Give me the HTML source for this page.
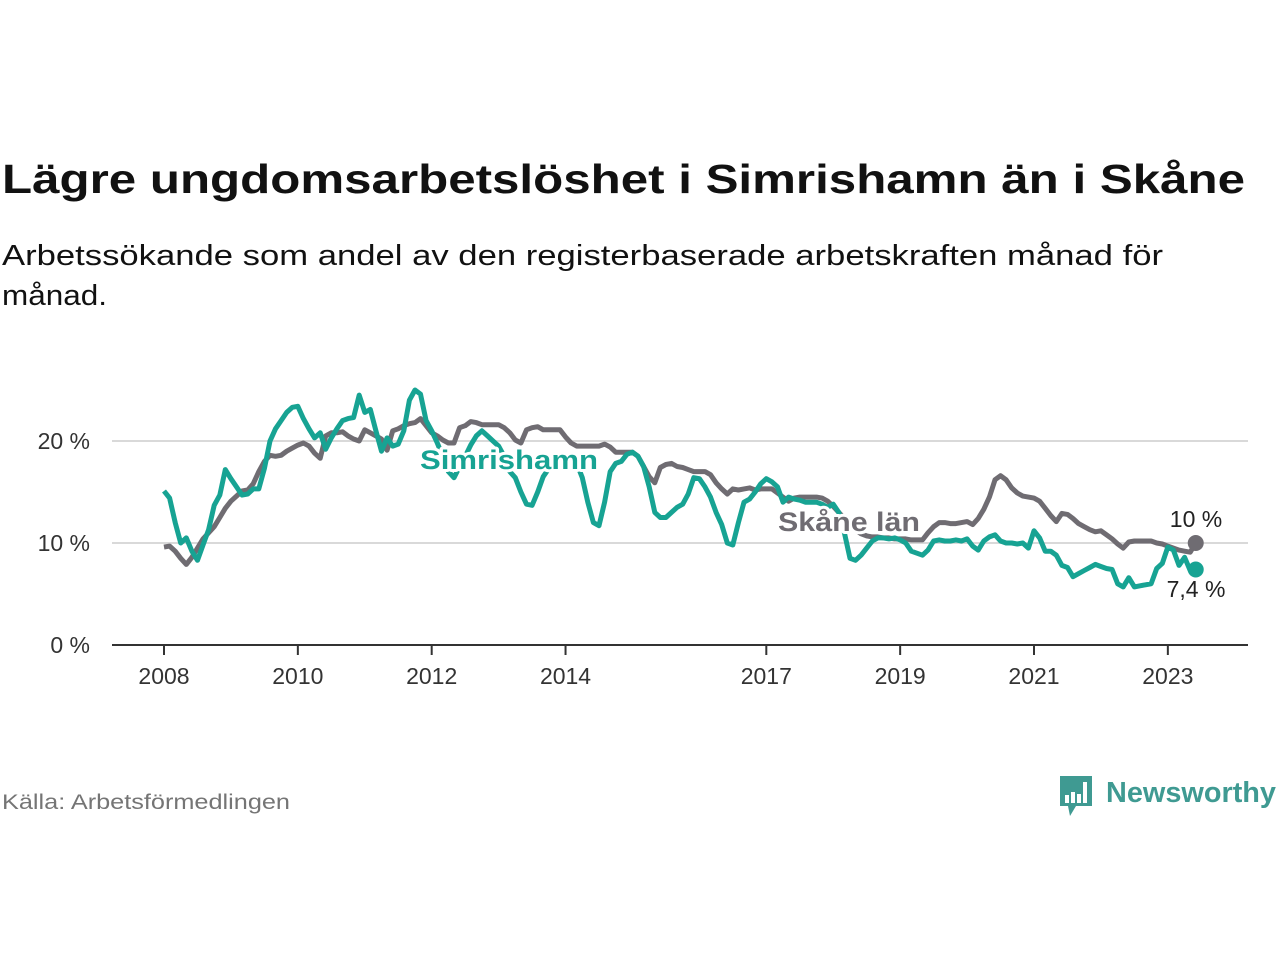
<!DOCTYPE html>
<html><head><meta charset="utf-8"><style>
html,body{margin:0;padding:0;background:#fff;}
svg{display:block;font-family:"Liberation Sans",sans-serif;}
</style></head><body>
<svg id="chart" width="1280" height="960" viewBox="0 0 1280 960" xmlns="http://www.w3.org/2000/svg">
<text x="2" y="193" font-size="41" font-weight="bold" fill="#111" textLength="1243" lengthAdjust="spacingAndGlyphs">Lägre ungdomsarbetslöshet i Simrishamn än i Skåne</text>
<text x="2" y="265" font-size="29" fill="#111" textLength="1161" lengthAdjust="spacingAndGlyphs">Arbetssökande som andel av den registerbaserade arbetskraften månad för</text>
<text x="2" y="305" font-size="29" fill="#111" textLength="105" lengthAdjust="spacingAndGlyphs">månad.</text>
<g id="grid"></g>
<g id="xaxis"></g>
<g id="series"></g>
<g id="labels"></g>
<text x="2" y="809" font-size="21" fill="#757575" textLength="288" lengthAdjust="spacingAndGlyphs">Källa: Arbetsförmedlingen</text>
<g>
<path d="M1060 776 h32 v30 h-16 l-6 10 l-2 -10 h-8 z" fill="#3f9a92"/>
<rect x="1065" y="795" width="4" height="8" fill="#fff"/>
<rect x="1071" y="792" width="4" height="11" fill="#fff"/>
<rect x="1077" y="794" width="4" height="9" fill="#fff"/>
<rect x="1083" y="782" width="4" height="21" fill="#fff"/>
<text x="1106" y="802" font-size="29" font-weight="bold" fill="#3f9a92" textLength="170" lengthAdjust="spacingAndGlyphs">Newsworthy</text>
</g>
</svg>
<script>
const startYear = 2008;
const yTicks = [0, 10, 20];
const xTickYears = [2008, 2010, 2012, 2014, 2017, 2019, 2021, 2023];
const skane = [9.6,9.7,9.2,8.5,7.9,8.6,9.5,10.4,11,11.6,12.5,13.4,14.1,14.6,15.1,15.2,15.8,17,18,18.6,18.5,18.6,19,19.3,19.6,19.8,19.5,18.8,18.3,20.5,20.8,20.8,20.9,20.5,20.2,20,21.1,20.8,20.5,20.2,19.1,21,21.2,21.5,21.7,21.8,22.2,21.5,20.8,20.5,20.1,19.8,19.8,21.3,21.5,21.9,21.8,21.6,21.6,21.6,21.6,21.3,20.8,20.1,19.8,21.1,21.3,21.4,21.1,21.1,21.1,21.1,20.4,19.8,19.5,19.5,19.5,19.5,19.5,19.7,19.4,18.9,18.9,18.9,18.9,18.5,17.5,16.5,15.9,17.4,17.7,17.8,17.5,17.4,17.2,17,17,17,16.7,15.9,15.3,14.8,15.3,15.2,15.3,15.4,15.2,15.3,15.3,15.3,14.9,14.5,14.1,14.4,14.5,14.5,14.5,14.5,14.4,14.1,13.6,13,12.4,11.8,11.3,10.9,10.7,10.6,10.6,10.5,10.5,10.4,10.4,10.4,10.3,10.3,10.3,11,11.6,12,12,11.9,11.9,12,12.1,11.8,12.4,13.3,14.5,16.2,16.6,16.2,15.4,14.9,14.6,14.5,14.4,14.1,13.4,12.7,12.1,12.9,12.8,12.4,11.9,11.6,11.3,11.1,11.2,10.8,10.4,9.9,9.5,10.1,10.2,10.2,10.2,10.2,10,9.9,9.7,9.5,9.3,9.2,9.1,10];
const simrishamn = [15.1,14.4,12,10,10.5,9.2,8.3,9.8,11.3,13.7,14.7,17.2,16.3,15.5,14.7,14.8,15.3,15.3,17.3,20,21.2,22,22.8,23.3,23.4,22.2,21.2,20.3,20.8,19.2,20.3,21.2,22,22.2,22.3,24.5,22.8,23.1,21,19,20.3,19.5,19.7,21,24,25,24.6,22,21,19.8,18.5,17,16.4,17.5,18.5,19.6,20.5,21,20.5,20,19.5,18.5,17,16.4,15,13.8,13.7,15,16.5,17.3,17.5,17.8,18,17.5,17.8,16.4,14,12,11.7,14,17,17.8,18,18.7,18.9,18.5,17.5,15.5,13,12.5,12.5,13,13.5,13.8,14.8,16.4,16.3,15.5,14.5,13,11.8,10,9.8,12,14,14.3,15,15.8,16.3,16,15.5,14,14.5,14.3,14.2,14,14,14,13.8,13.5,13.8,13,11,8.5,8.3,8.8,9.5,10.2,10.5,10.5,10.4,10.5,10.3,10,9.2,9,8.8,9.3,10.2,10.3,10.2,10.2,10.3,10.2,10.4,9.7,9.3,10.2,10.6,10.8,10.2,10,10,9.9,10,9.5,11.2,10.5,9.2,9.2,8.8,7.8,7.6,6.7,7,7.3,7.6,7.9,7.7,7.5,7.4,6,5.7,6.6,5.7,5.8,5.9,6,7.5,8,9.6,9.3,7.8,8.6,7.3,7.4];

const NS = 'http://www.w3.org/2000/svg';
const x = m => 164 + m * (1034 - 164) / 156;
const y = v => 645 - v * 10.2;
function mk(tag, attrs, parent) {
  const e = document.createElementNS(NS, tag);
  for (const k in attrs) e.setAttribute(k, attrs[k]);
  parent.appendChild(e);
  return e;
}
const grid = document.getElementById('grid');
yTicks.forEach(t => {
  if (t > 0) {
    const l = mk('line', {x1: 112, x2: 1248, y1: y(t), y2: y(t), stroke: '#d9d9d9', 'stroke-width': 2}, grid);
    
    
  }
  const tx = mk('text', {x: 90, y: y(t) + 8, 'font-size': 23, fill: '#333', 'text-anchor': 'end'}, grid);
  tx.textContent = t + ' %';
  
  
});
const xa = document.getElementById('xaxis');
const ax = mk('line', {x1: 112, x2: 1248, y1: 645, y2: 645, stroke: '#333', 'stroke-width': 2}, xa);


xTickYears.forEach(yr => {
  const px = x((yr - startYear) * 12);
  const tk = mk('line', {x1: px, x2: px, y1: 645, y2: 655, stroke: '#333', 'stroke-width': 2}, xa);
  
  
  const t = mk('text', {x: px, y: 684, 'font-size': 23, fill: '#333', 'text-anchor': 'middle'}, xa);
  t.textContent = yr;
  
  
});
const sg = document.getElementById('series');
function line(data, color, name) {
  const d = data.map((v, i) => (i ? 'L' : 'M') + x(i).toFixed(1) + ' ' + y(v).toFixed(1)).join(' ');
  const p = mk('path', {d: d, fill: 'none', stroke: color, 'stroke-width': 5, 'stroke-linejoin': 'round'}, sg);
  
  
  const n = data.length - 1;
  const c = mk('circle', {cx: x(n), cy: y(data[n]), r: 8, fill: color}, sg);
  
  
}
line(skane, '#6f6c72', 'skane');
line(simrishamn, '#17a393', 'simrishamn');
const lg = document.getElementById('labels');
function lab(txt, px, py, color, name, anchor, size, bold, len) {
  const a = {x: px, y: py, 'font-size': size, fill: color, 'text-anchor': anchor, stroke: '#fff', 'stroke-width': 6, 'paint-order': 'stroke', 'stroke-linejoin': 'round'};
  if (bold) a['font-weight'] = 'bold';
  if (len) { a['textLength'] = len; a['lengthAdjust'] = 'spacingAndGlyphs'; }
  const t = mk('text', a, lg);
  t.textContent = txt;
  
  
}
lab('Simrishamn', 420, 469, '#17a393', 'simrishamn-label', 'start', 27, true, 178);
lab('Skåne län', 778, 531, '#6f6c72', 'skane-label', 'start', 27, true, 142);
lab('10 %', 1196, 527, '#222', 'skane-end-value', 'middle', 23, false, 0);
lab('7,4 %', 1196, 597, '#222', 'simrishamn-end-value', 'middle', 23, false, 0);
</script>
</body></html>
